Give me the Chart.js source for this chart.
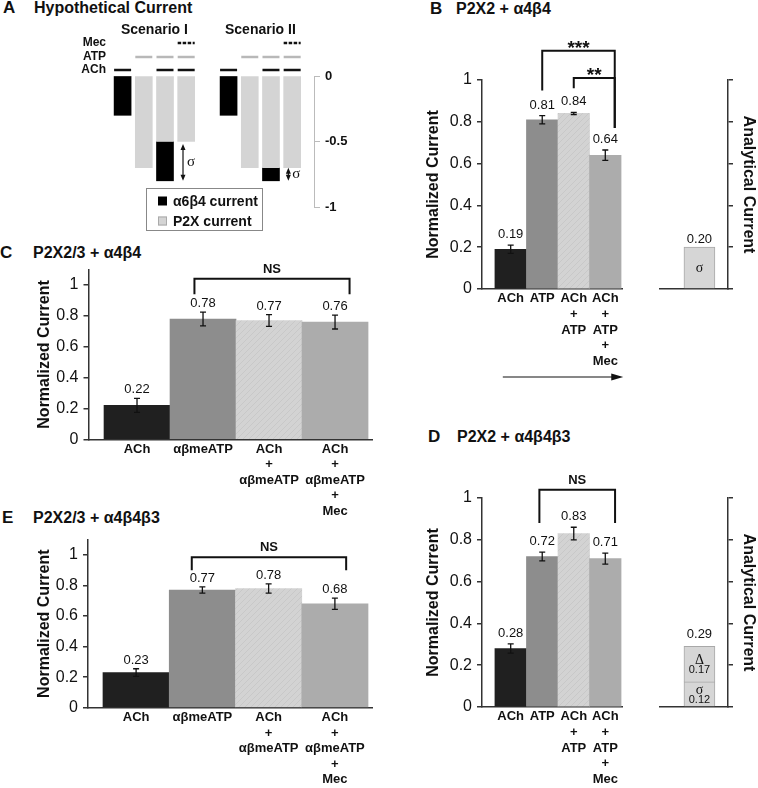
<!DOCTYPE html>
<html lang="en">
<head>
<meta charset="UTF-8" />
<title>P2X + nAChR currents</title>
<style>
  body { margin: 0; background: #fff; }
  #fig { position: relative; width: 758px; height: 788px; overflow: hidden;
         font-family: "Liberation Sans", Arial, sans-serif; color: #111; }
  #fig canvas { position: absolute; }
  .ttl { position: absolute; font-weight: bold; font-size: 16px; line-height: 20px; white-space: nowrap; }
  .let { font-size: 17px; }
</style>
</head>
<body>
<div id="fig">
  <div class="ttl let" style="left:3px;top:-2px">A</div>
  <div class="ttl" style="left:34px;top:-2px">Hypothetical Current</div>
  <div class="ttl let" style="left:430px;top:-1px">B</div>
  <div class="ttl" style="left:456px;top:-1px">P2X2 + α4β4</div>
  <div class="ttl let" style="left:0px;top:243px">C</div>
  <div class="ttl" style="left:33px;top:243px">P2X2/3 + α4β4</div>
  <div class="ttl let" style="left:428px;top:427px">D</div>
  <div class="ttl" style="left:457px;top:427px">P2X2 + α4β4β3</div>
  <div class="ttl let" style="left:2px;top:508px">E</div>
  <div class="ttl" style="left:33px;top:508px">P2X2/3 + α4β4β3</div>

  <canvas id="cA" width="300" height="215" style="left:60px;top:22px"></canvas>
  <canvas id="cB" width="215" height="360" style="left:420px;top:30px"></canvas>
  <canvas id="cB2" width="108" height="240" style="left:650px;top:60px"></canvas>
  <canvas id="cC" width="350" height="270" style="left:31px;top:255px"></canvas>
  <canvas id="cD" width="215" height="333" style="left:420px;top:455px"></canvas>
  <canvas id="cD2" width="108" height="240" style="left:650px;top:478px"></canvas>
  <canvas id="cE" width="350" height="263" style="left:31px;top:525px"></canvas>
</div>
<script src="https://cdn.jsdelivr.net/npm/chart.js"></script>
<script>
  // ---- data ----
  // panel A: hypothetical traces (x slot, floating [start, end])
  const hypoX = [0, 1, 2, 3, 5, 6, 7, 8];
  const alphaCur = [[0, -0.3], null, [-0.5, -0.8], null, [0, -0.3], null, [-0.7, -0.8], null];
  const p2xCur = [null, [0, -0.7], [0, -0.5], [0, -0.5], null, [0, -0.7], [0, -0.7], [0, -0.7]];
  const achOn = [1, 0, 1, 1, 1, 0, 1, 1];
  const atpOn = [0, 1, 1, 1, 0, 1, 1, 1];
  const mecOn = [0, 0, 0, 1, 0, 0, 0, 1];
  const sigmaArrows = [{ x: 2.85, from: -0.52, to: -0.8 }, { x: 7.82, from: -0.7, to: -0.8 }];
  const scenarios = [{ x: 1.5, text: "Scenario I" }, { x: 6.5, text: "Scenario II" }];
  const hypoTicks = [0, -0.5, -1];

  // panels B and D
  const normTicks = [0, 0.2, 0.4, 0.6, 0.8, 1];
  const atpCats = [["ACh"], ["ATP"], ["ACh", "+", "ATP"], ["ACh", "+", "ATP", "+", "Mec"]];
  const bVals = [0.19, 0.81, 0.84, 0.64];
  const bErrs = [0.02, 0.02, 0.005, 0.025];
  const bSigma = [0.2];
  const bBrackets = [
    { x1: 1.5, x2: 3.8, top: 1.14, b1: 0.95, b2: 0.77, text: "***" },
    { x1: 2.5, x2: 3.8, top: 1.01, b1: 0.96, b2: 0.77, text: "**" },
  ];
  const dVals = [0.28, 0.72, 0.83, 0.71];
  const dErrs = [0.022, 0.021, 0.03, 0.026];
  const dSigma = [0.12];
  const dDelta = [0.17];
  const dBrackets = [{ x1: 1.41, x2: 3.81, top: 1.04, b1: 0.88, b2: 0.88, text: "NS" }];

  // panels C and E
  const meCats = [["ACh"], ["αβmeATP"], ["ACh", "+", "αβmeATP"], ["ACh", "+", "αβmeATP", "+", "Mec"]];
  const cVals = [0.22, 0.78, 0.77, 0.76];
  const cErrs = [0.045, 0.045, 0.038, 0.045];
  const cBrackets = [{ x1: 1.37, x2: 3.72, top: 1.04, b1: 0.94, b2: 0.94, text: "NS" }];
  const eVals = [0.23, 0.77, 0.78, 0.68];
  const eErrs = [0.025, 0.02, 0.03, 0.037];
  const eBrackets = [{ x1: 1.34, x2: 3.67, top: 0.985, b1: 0.9, b2: 0.9, text: "NS" }];

  // ---- styling ----
  const FONT = '"Liberation Sans", Arial, sans-serif';
  const SERIF = '"Liberation Serif", "DejaVu Serif", serif';
  const ink = "#111";
  const axisCol = "#333";
  Chart.defaults.font.family = FONT;
  Chart.defaults.color = ink;
  Chart.defaults.animation = false;
  Chart.defaults.responsive = false;
  Chart.defaults.plugins.legend.display = false;
  Chart.defaults.plugins.tooltip.enabled = false;

  const tickText = (v) => String(+Number(v).toFixed(2));
  const setTicks = (list) => (s) => { s.ticks = list.map((v) => ({ value: v })); };

  function hatch(base, line) {
    const c = document.createElement("canvas");
    c.width = c.height = 6;
    const g = c.getContext("2d");
    g.fillStyle = base;
    g.fillRect(0, 0, 6, 6);
    g.strokeStyle = line;
    g.lineWidth = 1;
    g.beginPath();
    g.moveTo(0, 6); g.lineTo(6, 0);
    g.stroke();
    return g.createPattern(c, "repeat");
  }
  const barFill = ["#202020", "#8d8d8d", hatch("#d3d3d3", "#c8c8c8"), "#acacac"];

  // ---- main bar panels (B, C, D, E) ----
  function mainDecor(vals, errs, brackets, gap, arrow) {
    return {
      id: "mainDecor",
      afterDatasetsDraw(chart) {
        const { ctx, scales: { x, y }, chartArea } = chart;
        ctx.save();
        ctx.strokeStyle = ink;
        ctx.fillStyle = ink;
        ctx.textAlign = "center";
        ctx.textBaseline = "alphabetic";
        ctx.lineWidth = 1.3;
        ctx.font = "13px " + FONT;
        vals.forEach((v, i) => {
          const px = x.getPixelForValue(i + 0.5);
          const hi = y.getPixelForValue(v + errs[i]);
          const lo = y.getPixelForValue(v - errs[i]);
          ctx.beginPath();
          ctx.moveTo(px, hi); ctx.lineTo(px, lo);
          ctx.moveTo(px - 3, hi); ctx.lineTo(px + 3, hi);
          ctx.moveTo(px - 3, lo); ctx.lineTo(px + 3, lo);
          ctx.stroke();
          ctx.fillText(v.toFixed(2), px, hi - gap);
        });
        ctx.lineWidth = 2;
        brackets.forEach((b) => {
          const x1 = x.getPixelForValue(b.x1), x2 = x.getPixelForValue(b.x2);
          const t = y.getPixelForValue(b.top);
          ctx.beginPath();
          ctx.moveTo(x1, y.getPixelForValue(b.b1));
          ctx.lineTo(x1, t); ctx.lineTo(x2, t);
          ctx.lineTo(x2, y.getPixelForValue(b.b2));
          ctx.stroke();
          const stars = b.text.startsWith("*");
          ctx.font = stars ? "bold 19px " + FONT : "bold 13px " + FONT;
          ctx.fillText(b.text, (x1 + x2) / 2, stars ? t + 3 : t - 6);
        });
        if (arrow) {
          const a1 = x.getPixelForValue(arrow.x1), a2 = x.getPixelForValue(arrow.x2);
          const ay = chartArea.bottom + arrow.dy;
          ctx.lineWidth = 1.2;
          ctx.beginPath();
          ctx.moveTo(a1, ay); ctx.lineTo(a2 - 10, ay);
          ctx.stroke();
          ctx.beginPath();
          ctx.moveTo(a2, ay); ctx.lineTo(a2 - 12, ay - 3.5); ctx.lineTo(a2 - 12, ay + 3.5);
          ctx.closePath();
          ctx.fill();
        }
        ctx.restore();
      },
    };
  }

  function mainPanel(id, cats, vals, errs, brackets, o) {
    return new Chart(document.getElementById(id), {
      type: "bar",
      data: {
        datasets: [{
          data: vals.map((v, i) => ({ x: i + 0.5, y: v })),
          backgroundColor: barFill,
          borderWidth: 0,
          barPercentage: 1,
          categoryPercentage: 1,
        }],
      },
      options: {
        layout: { padding: o.pad },
        scales: {
          x: {
            type: "linear", min: o.xMin, max: o.xMax, offset: false,
            grid: { display: false, drawTicks: false },
            border: { color: axisCol, width: 1.5 },
            afterBuildTicks: setTicks(cats.map((c, i) => i + 0.5)),
            ticks: {
              autoSkip: false, maxRotation: 0, minRotation: 0, padding: 2,
              font: { size: 13, weight: "bold", lineHeight: 1.2 },
              callback: (v, i) => cats[i],
            },
            afterFit: (s) => { s.height = o.xH; },
          },
          y: {
            min: 0, max: o.yMax,
            afterBuildTicks: setTicks(normTicks),
            ticks: { padding: 5, font: { size: 16 }, callback: tickText },
            grid: { drawOnChartArea: false, tickLength: 5, color: axisCol, lineWidth: 1.5 },
            border: { color: axisCol, width: 1.5 },
            title: { display: true, text: "Normalized Current", font: { size: 16, weight: "bold" }, padding: 4 },
            afterFit: (s) => { s.width = o.yW; },
          },
        },
      },
      plugins: [mainDecor(vals, errs, brackets, o.gap, o.arrow)],
    });
  }

  mainPanel("cB", atpCats, bVals, bErrs, bBrackets, {
    pad: { top: 50, right: 13, left: 0, bottom: 0 }, xMin: -0.41, xMax: 4.03, yMax: 1,
    xH: 101, yW: 62, gap: 7, arrow: { x1: 0.25, x2: 4.07, dy: 88 },
  });
  mainPanel("cD", atpCats, dVals, dErrs, dBrackets, {
    pad: { top: 43, right: 13, left: 0, bottom: 0 }, xMin: -0.41, xMax: 4.03, yMax: 1,
    xH: 81, yW: 62, gap: 7,
  });
  mainPanel("cC", meCats, cVals, cErrs, cBrackets, {
    pad: { top: 13.5, right: 9, left: 0, bottom: 0 }, xMin: -0.235, xMax: 4.06, yMax: 1.1,
    xH: 85.7, yW: 57.5, gap: 5,
  });
  mainPanel("cE", meCats, eVals, eErrs, eBrackets, {
    pad: { top: 11, right: 9, left: 0, bottom: 0 }, xMin: -0.226, xMax: 4.06, yMax: 1.1,
    xH: 80.3, yW: 57, gap: 5,
  });

  // ---- analytical current side panels ----
  function sideDecor(segs, showNum) {
    return {
      id: "sideDecor",
      afterDatasetsDraw(chart) {
        const { ctx, scales: { x, y } } = chart;
        ctx.save();
        ctx.fillStyle = ink;
        ctx.textAlign = "center";
        ctx.textBaseline = "middle";
        let base = 0;
        segs.forEach((s) => {
          const px = x.getPixelForValue(s.x);
          const mid = (y.getPixelForValue(base) + y.getPixelForValue(base + s.v)) / 2;
          ctx.font = "14px " + SERIF;
          ctx.fillText(s.sym, px, showNum ? mid - 4 : mid);
          if (showNum) {
            ctx.font = "11px " + FONT;
            ctx.fillText(s.v.toFixed(2), px, mid + 6);
          }
          base += s.v;
        });
        ctx.font = "13px " + FONT;
        ctx.textBaseline = "alphabetic";
        ctx.fillText(base.toFixed(2), x.getPixelForValue(segs[0].x), y.getPixelForValue(base) - (showNum ? 8 : 4));
        ctx.restore();
      },
    };
  }

  function sidePanel(id, series, o) {
    return new Chart(document.getElementById(id), {
      type: "bar",
      data: {
        datasets: series.map((s) => ({
          data: s.vals.map((v) => ({ x: 0.58, y: v })),
          backgroundColor: "#d6d6d6",
          borderColor: "#a8a8a8",
          borderWidth: 1,
          barThickness: 31,
        })),
      },
      options: {
        layout: { padding: o.pad },
        scales: {
          x: {
            type: "linear", min: 0, max: 1, stacked: true, offset: false,
            grid: { display: false, drawTicks: false },
            ticks: { display: false },
            border: { color: axisCol, width: 1.5 },
            afterFit: (s) => { s.height = o.xH; },
          },
          y: {
            position: "right", min: 0, max: 1, stacked: true,
            afterBuildTicks: setTicks(normTicks),
            ticks: { display: false },
            grid: { drawOnChartArea: false, tickLength: 5, color: axisCol, lineWidth: 1.5 },
            border: { color: axisCol, width: 1.5 },
            title: { display: true, text: "Analytical Current", font: { size: 16, weight: "bold" }, padding: 0 },
            afterFit: (s) => { s.width = o.yW; },
          },
        },
      },
      plugins: [sideDecor(o.segs, o.showNum)],
    });
  }

  sidePanel("cB2", [{ vals: bSigma }], {
    pad: { top: 20, left: 10, right: 0, bottom: 0 }, xH: 11, yW: 30,
    segs: [{ x: 0.58, v: bSigma[0], sym: "σ" }], showNum: false,
  });
  sidePanel("cD2", [{ vals: dSigma }, { vals: dDelta }], {
    pad: { top: 20, left: 10, right: 0, bottom: 0 }, xH: 11, yW: 30,
    segs: [{ x: 0.58, v: dSigma[0], sym: "σ" }, { x: 0.58, v: dDelta[0], sym: "Δ" }], showNum: true,
  });

  // ---- panel A: hypothetical current ----
  const pts = (arr) => hypoX.map((x, i) => arr[i] && { x: x, y: arr[i] }).filter(Boolean);

  const hypoDecor = {
    id: "hypoDecor",
    afterDatasetsDraw(chart) {
      const { ctx, scales: { x, y }, chartArea: ca } = chart;
      const half = 8.5;
      ctx.save();
      ctx.fillStyle = ink;
      ctx.textBaseline = "middle";
      ctx.textAlign = "center";
      ctx.font = "bold 14px " + FONT;
      scenarios.forEach((s) => ctx.fillText(s.text, x.getPixelForValue(s.x), ca.top - 46));

      const rows = [
        { name: "Mec", on: mecOn, dy: -33, color: ink, dash: [3.5, 1.5] },
        { name: "ATP", on: atpOn, dy: -19, color: "#b8b8b8", dash: [] },
        { name: "ACh", on: achOn, dy: -6, color: ink, dash: [] },
      ];
      ctx.font = "bold 12px " + FONT;
      ctx.lineWidth = 2.5;
      rows.forEach((r) => {
        const ry = ca.top + r.dy;
        ctx.textAlign = "right";
        ctx.fillText(r.name, ca.left - 6, ry);
        ctx.strokeStyle = r.color;
        ctx.setLineDash(r.dash);
        hypoX.forEach((hx, i) => {
          if (!r.on[i]) return;
          const px = x.getPixelForValue(hx);
          ctx.beginPath();
          ctx.moveTo(px - half, ry); ctx.lineTo(px + half, ry);
          ctx.stroke();
        });
      });
      ctx.setLineDash([]);

      // sigma arrows
      ctx.strokeStyle = ink;
      ctx.lineWidth = 1.2;
      sigmaArrows.forEach((a) => {
        const px = x.getPixelForValue(a.x);
        const y1 = y.getPixelForValue(a.from), y2 = y.getPixelForValue(a.to);
        ctx.beginPath();
        ctx.moveTo(px, y1 + 5); ctx.lineTo(px, y2 - 5);
        ctx.stroke();
        ctx.beginPath();
        ctx.moveTo(px, y1); ctx.lineTo(px - 2.5, y1 + 6); ctx.lineTo(px + 2.5, y1 + 6); ctx.closePath();
        ctx.moveTo(px, y2); ctx.lineTo(px - 2.5, y2 - 6); ctx.lineTo(px + 2.5, y2 - 6); ctx.closePath();
        ctx.fill();
        ctx.font = "15px " + SERIF;
        ctx.textAlign = "left";
        ctx.fillText("σ", px + 4, (y1 + y2) / 2);
      });

      // legend box
      const bx = ca.left + 34, by = ca.bottom - 19;
      ctx.fillStyle = "#fff";
      ctx.fillRect(bx, by, 116, 42);
      ctx.strokeStyle = "#888";
      ctx.lineWidth = 1;
      ctx.strokeRect(bx + 0.5, by + 0.5, 116, 42);
      const items = [
        { label: "α6β4 current", color: "#000" },
        { label: "P2X current", color: "#d4d4d4" },
      ];
      ctx.font = "bold 14px " + FONT;
      ctx.textAlign = "left";
      items.forEach((it, i) => {
        const iy = by + 13 + i * 20;
        ctx.fillStyle = it.color;
        ctx.fillRect(bx + 12, iy - 4.5, 9, 9);
        if (i === 1) { ctx.strokeStyle = "#aaa"; ctx.strokeRect(bx + 12.5, iy - 4, 8, 8); }
        ctx.fillStyle = ink;
        ctx.fillText(it.label, bx + 27, iy + 1);
      });
      ctx.restore();
    },
  };

  new Chart(document.getElementById("cA"), {
    type: "bar",
    data: {
      datasets: [
        { label: "P2X current", data: pts(p2xCur), backgroundColor: "#d4d4d4", grouped: false, barThickness: 17, borderWidth: 0 },
        { label: "α6β4 current", data: pts(alphaCur), backgroundColor: "#000", grouped: false, barThickness: 17, borderWidth: 0 },
      ],
    },
    options: {
      layout: { padding: { left: 52, top: 54, bottom: 30, right: 0 } },
      scales: {
        x: { type: "linear", display: false, min: -0.5, max: 9.03, offset: false },
        y: {
          position: "right", min: -1, max: 0,
          afterBuildTicks: setTicks(hypoTicks),
          ticks: { padding: 5, font: { size: 13, weight: "bold" }, callback: tickText },
          grid: { drawOnChartArea: false, tickLength: 6, color: "#bbb" },
          border: { color: "#bbb" },
          afterFit: (s) => { s.width = 46; },
        },
      },
    },
    plugins: [hypoDecor],
  });
</script>
</body>
</html>
